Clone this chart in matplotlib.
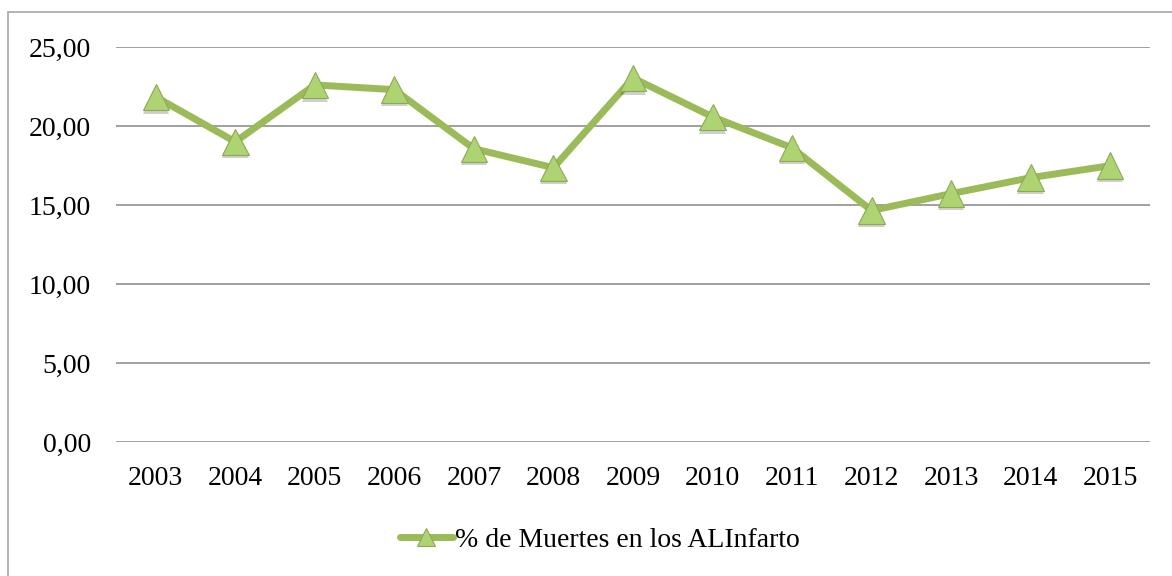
import matplotlib
matplotlib.use("Agg")
import matplotlib.pyplot as plt
import matplotlib.patheffects as pe
from matplotlib.patches import Rectangle
from matplotlib.lines import Line2D

years = ["2003", "2004", "2005", "2006", "2007", "2008", "2009",
         "2010", "2011", "2012", "2013", "2014", "2015"]
values = [21.84, 19.0, 22.6, 22.3, 18.56, 17.36, 23.04,
          20.58, 18.62, 14.65, 15.72, 16.73, 17.49]
yticks = [0, 5, 10, 15, 20, 25]
ytick_labels = ["0,00", "5,00", "10,00", "15,00", "20,00", "25,00"]
series_name = "% de Muertes en los ALInfarto"

plt.rcParams['font.family'] = ['Liberation Serif', 'DejaVu Serif']

W, H = 1172, 576
fig = plt.figure(figsize=(W / 100, H / 100), dpi=100)
fig.patch.set_facecolor("white")

# outer chart border
fig.patches.append(Rectangle((8 / W, -0.05), 1.2, (H - 12) / H + 0.05,
                             transform=fig.transFigure, fill=False,
                             edgecolor="#a6a6a6", linewidth=1.2))

ax = fig.add_axes([116 / W, 1 - 442 / H, (1150 - 116) / W, (442 - 47) / H])
x = list(range(len(years)))

ax.set_xlim(-0.5, len(years) - 0.5)
ax.set_ylim(0, 25)
ax.set_yticks(yticks)
ax.set_yticklabels(ytick_labels)
ax.set_xticks(x)
ax.set_xticklabels(years)
for s in ax.spines.values():
    s.set_visible(False)
ax.tick_params(axis="both", length=0, labelsize=20, colors="black")
ax.tick_params(axis="y", pad=18)
ax.tick_params(axis="x", pad=17)
ax.yaxis.grid(True, color="#a0a0a0", linewidth=1.4)
ax.set_axisbelow(True)

green = "#9BBB59"
ax.plot(x, values, color=green, linewidth=5, solid_capstyle="round",
        zorder=3)
ax.plot(x, values, linestyle="none", marker="^", markersize=19,
        markerfacecolor="#ADD373", markeredgecolor="#8CAA52",
        markeredgewidth=0.8, zorder=4,
        path_effects=[pe.SimplePatchShadow(offset=(0, -2.5), alpha=0.25,
                                           shadow_rgbFace="#404040"),
                      pe.Normal()])

# legend
handle = Line2D([0], [0], color=green, linewidth=5, marker="^",
                markersize=13, markerfacecolor="#ADD373",
                markeredgecolor="#8CAA52", markeredgewidth=0.8,
                solid_capstyle="round")
fig.legend([handle], [series_name], loc="center",
           bbox_to_anchor=(600 / W, 1 - 540 / H), frameon=False,
           fontsize=20, handlelength=1.9, handletextpad=0.1)

fig.savefig("out.png", dpi=100, facecolor="white")
